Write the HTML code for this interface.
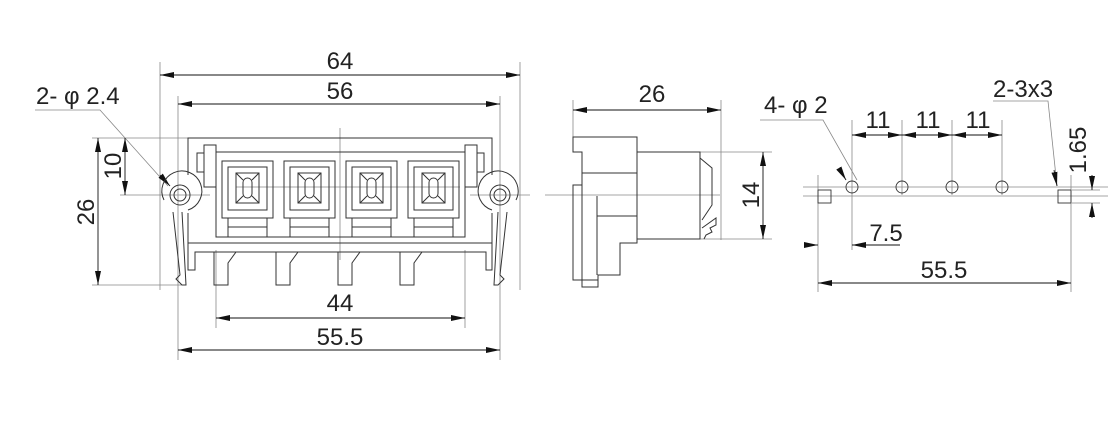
<!DOCTYPE html>
<html><head><style>
html,body{margin:0;padding:0;background:#fff;}
svg{display:block;}
text{font-family:"Liberation Sans",Arial,sans-serif;fill:#222;}
</style></head><body>
<svg width="1120" height="440" viewBox="0 0 1120 440" xmlns="http://www.w3.org/2000/svg">
<defs>
<marker id="a" viewBox="0 0 14 6" refX="14" refY="3" markerWidth="14" markerHeight="6" orient="auto-start-reverse" markerUnits="userSpaceOnUse"><path d="M0,0 L14,3 L0,6 z" fill="#111"/></marker>
</defs>
<g stroke="#888" stroke-width="0.8" fill="none">
<line x1="160" y1="62" x2="160" y2="290"/>
<line x1="520" y1="62" x2="520" y2="290"/>
<line x1="178" y1="96" x2="178" y2="360"/>
<line x1="500" y1="96" x2="500" y2="360"/>
<line x1="216" y1="250" x2="216" y2="328"/>
<line x1="465" y1="250" x2="465" y2="328"/>
<line x1="92" y1="138" x2="188" y2="138"/>
<line x1="92" y1="285" x2="182" y2="285"/>
<line x1="120" y1="195" x2="210" y2="195"/>
<line x1="470" y1="195" x2="530" y2="195"/>
<line x1="340" y1="128" x2="340" y2="260"/>
<line x1="236" y1="187" x2="460" y2="187"/>
<polyline points="35,110 100,110 168,186"/>
<line x1="573" y1="100" x2="573" y2="137"/>
<line x1="721" y1="100" x2="721" y2="240"/>
<line x1="700" y1="152" x2="772" y2="152"/>
<line x1="700" y1="239" x2="772" y2="239"/>
<line x1="545" y1="195" x2="720" y2="195"/>
<line x1="803" y1="187" x2="1108" y2="187"/>
<line x1="803" y1="196" x2="1108" y2="196"/>
<line x1="852" y1="120" x2="852" y2="250"/>
<line x1="902" y1="120" x2="902" y2="195"/>
<line x1="952" y1="120" x2="952" y2="195"/>
<line x1="1002" y1="120" x2="1002" y2="195"/>
<line x1="818" y1="175" x2="818" y2="292"/>
<line x1="1071" y1="175" x2="1071" y2="292"/>
<line x1="1072" y1="190" x2="1100" y2="190"/>
<line x1="1072" y1="203" x2="1100" y2="203"/>
<polyline points="760,120 823,120 857,180"/>
<polyline points="993,101 1048,101 1057,186"/>
</g>
<g stroke="#111" stroke-width="0.9" fill="none" marker-start="url(#a)" marker-end="url(#a)">
<line x1="160" y1="75" x2="520" y2="75"/>
<line x1="178" y1="104" x2="500" y2="104"/>
<line x1="216" y1="318" x2="465" y2="318"/>
<line x1="178" y1="350" x2="500" y2="350"/>
<line x1="98" y1="138" x2="98" y2="285"/>
<line x1="125" y1="138" x2="125" y2="195"/>
<line x1="573" y1="110" x2="721" y2="110"/>
<line x1="763" y1="152" x2="763" y2="239"/>
<line x1="852" y1="135" x2="902" y2="135"/>
<line x1="902" y1="135" x2="952" y2="135"/>
<line x1="952" y1="135" x2="1002" y2="135"/>
<line x1="818" y1="283" x2="1071" y2="283"/>
</g>
<g stroke="#111" stroke-width="0.9" fill="none">
<line x1="804" y1="245" x2="818" y2="245" marker-end="url(#a)"/>
<line x1="900" y1="245" x2="852" y2="245" marker-end="url(#a)"/>
<line x1="1092" y1="175" x2="1092" y2="190" marker-end="url(#a)"/>
<line x1="1092" y1="218" x2="1092" y2="203" marker-end="url(#a)"/>
<line x1="160" y1="175" x2="170" y2="186" marker-end="url(#a)"/>
<line x1="840" y1="170" x2="846" y2="180" marker-end="url(#a)"/>
<line x1="1054" y1="170" x2="1057" y2="186" marker-end="url(#a)"/>
</g>
<g stroke="#333" stroke-width="1" fill="none">
<path d="M188,175 L188,138 L492,138 L492,175"/>
<rect x="216" y="152" width="249" height="85"/>
<rect x="204" y="145" width="12" height="42"/>
<rect x="197" y="153" width="7" height="19"/>
<rect x="465" y="145" width="12" height="42"/>
<rect x="477" y="153" width="7" height="19"/>
<path d="M188,213 L188,270 L195,270 L195,252 L486,252 L486,270 L492,270 L492,213"/>
<line x1="188" y1="243" x2="492" y2="243"/>
<path d="M164,200 A20,20 0 1 1 188,210"/>
<path d="M516,200 A20,20 0 1 0 492,210"/>
<circle cx="180" cy="195" r="10"/><circle cx="180" cy="195" r="6"/>
<circle cx="500" cy="195" r="10"/><circle cx="500" cy="195" r="6"/>
<path d="M173,212 L180,275 L176,279 L182,285 L186,285 L182,212"/>
<path d="M507,212 L500,275 L504,279 L498,285 L494,285 L498,212"/>
</g>
<g stroke="#333" stroke-width="1" fill="none" id="sq">
<rect x="222" y="161" width="51" height="57"/>
<rect x="228" y="167" width="39" height="43"/>
<rect x="236" y="173" width="23" height="30"/>
<rect x="243" y="178" width="9" height="20" rx="4.5"/>
<path d="M236,173 L243,180 M259,173 L252,180 M236,203 L243,196 M259,203 L252,196"/>
<rect x="228" y="218" width="39" height="19"/><line x1="228" y1="227" x2="267" y2="227"/>
<path d="M214,252 L214,285 L228,285 L228,263 L236,252"/>
</g>
<use href="#sq" x="62"/>
<use href="#sq" x="124"/>
<use href="#sq" x="186"/>
<g stroke="#333" stroke-width="1" fill="none">
<path d="M573,137 L637,137 L637,243 L620,243 L620,275 L598,275 L598,287 L582,287 L582,280 L573,280 L573,185 L582,185 L582,152 L573,152 Z"/>
<line x1="582" y1="173" x2="637" y2="173"/>
<line x1="597" y1="216" x2="637" y2="216"/>
<line x1="597" y1="196" x2="597" y2="275"/>
<line x1="582" y1="185" x2="582" y2="280"/>
<line x1="582" y1="280" x2="598" y2="280"/>
<path d="M637,152 L700,152 L700,239 L637,239"/>
<path d="M700,158 L712,168 L712,205 L702,220 M702,228 L716,218 L716,225 L710,228 L712,232 L706,235 L704,239"/>
</g>
<g stroke="#333" stroke-width="0.9" fill="none">
<circle cx="852" cy="187" r="6"/><circle cx="902" cy="187" r="6"/>
<circle cx="952" cy="187" r="6"/><circle cx="1002" cy="187" r="6"/>
<rect x="818" y="190" width="13" height="13"/>
<rect x="1058" y="190" width="13" height="13"/>
</g>
<g font-size="24">
<text x="340" y="69" text-anchor="middle">64</text>
<text x="340" y="99" text-anchor="middle">56</text>
<text x="340" y="311" text-anchor="middle">44</text>
<text x="340" y="345" text-anchor="middle">55.5</text>
<text x="36" y="104">2- φ 2.4</text>
<text transform="translate(94,212) rotate(-90)" text-anchor="middle">26</text>
<text transform="translate(121,166) rotate(-90)" text-anchor="middle">10</text>
<text x="652" y="102" text-anchor="middle">26</text>
<text transform="translate(759,195) rotate(-90)" text-anchor="middle">14</text>
<text x="764" y="113">4- φ 2</text>
<text x="878" y="128" text-anchor="middle">11</text>
<text x="928" y="128" text-anchor="middle">11</text>
<text x="978" y="128" text-anchor="middle">11</text>
<text x="993" y="97">2-3x3</text>
<text x="886" y="241" text-anchor="middle">7.5</text>
<text x="944" y="278" text-anchor="middle">55.5</text>
<text transform="translate(1086,150) rotate(-90)" text-anchor="middle">1.65</text>
</g>
</svg>
</body></html>
